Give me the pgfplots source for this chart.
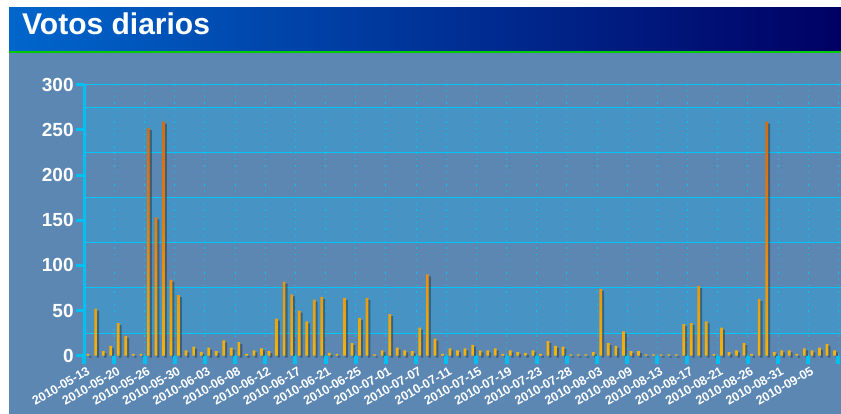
\documentclass[border=0pt]{standalone}
\usepackage{fontspec}
\setmainfont{Liberation Sans}
\usepackage{pgfplots}
\pgfplotsset{compat=1.18}
\usepackage{pgfplotstable}
\definecolor{bgblue}{HTML}{5B87B2}
\definecolor{bandblue}{HTML}{4693C4}
\definecolor{gridcyan}{HTML}{00C6F5}
\definecolor{tickcyan}{HTML}{00C0F2}
\definecolor{barTop}{HTML}{C85A0C}
\definecolor{barMid}{HTML}{E27A0E}
\definecolor{barLow}{HTML}{F0A80A}
\definecolor{barBot}{HTML}{FFD800}
\definecolor{hdrL}{HTML}{0066CC}
\definecolor{hdrM}{HTML}{0050B4}
\definecolor{hdrR}{HTML}{000064}
\definecolor{hdrGreen}{HTML}{00CC00}
\pgfdeclareverticalshading{barshade}{100bp}{color(0bp)=(barBot); color(12bp)=(barBot); color(30bp)=(barLow); color(55bp)=(barMid); color(100bp)=(barTop)}

\pgfplotstableread{
x y
0.5 2
1.5 52
2.5 5
3.5 11
4.5 36
5.5 22
6.5 2
7.5 2
8.5 252
9.5 153
10.5 259
11.5 84
12.5 67
13.5 6
14.5 10
15.5 4
16.5 9
17.5 5
18.5 17
19.5 9
20.5 15
21.5 2
22.5 6
23.5 8
24.5 5
25.5 41
26.5 82
27.5 68
28.5 50
29.5 38
30.5 62
31.5 65
32.5 3
33.5 2
34.5 64
35.5 14
36.5 42
37.5 64
38.5 1.5
39.5 6
40.5 46
41.5 9
42.5 6
43.5 5
44.5 31
45.5 90
46.5 19
47.5 2
48.5 8
49.5 6
50.5 8
51.5 12
52.5 6
53.5 6
54.5 8
55.5 2
56.5 6
57.5 4
58.5 3
59.5 6
60.5 2
61.5 16
62.5 11
63.5 10
64.5 1.5
65.5 1.5
66.5 1.5
67.5 4
68.5 74
69.5 14
70.5 11
71.5 27
72.5 5
73.5 5
74.5 1.5
75.5 1.5
76.5 1.5
77.5 1.5
78.5 1.5
79.5 35
80.5 36
81.5 77
82.5 38
83.5 2
84.5 31
85.5 4
86.5 6
87.5 14
88.5 2
89.5 63
90.5 259
91.5 4
92.5 6
93.5 6
94.5 2
95.5 8
96.5 6
97.5 9
98.5 13
99.5 6
}\votos

\begin{document}
\begin{tikzpicture}
% background panels
\fill[bgblue] (9pt,0pt) rectangle (841pt,360.7pt);
\fill[left color=hdrL, middle color=hdrM, right color=hdrR] (9pt,363.3pt) rectangle (841pt,406.7pt);
\fill[hdrGreen] (9pt,360.7pt) rectangle (841pt,363.3pt);
\node[anchor=base west, inner sep=0pt, text=white, font=\fontsize{30}{31}\selectfont\bfseries] at (22pt,379pt) {Votos diarios};

\begin{axis}[
  at={(84.3pt,58.3pt)}, anchor=south west,
  scale only axis, width=757pt, height=271pt,
  xmin=0, xmax=100.4, ymin=0, ymax=300,
  axis on top,
  separate axis lines,
  axis x line*=bottom, axis y line*=left,
  x axis line style={draw=none},
  y axis line style={tickcyan, line width=3pt, shorten <=-7pt},
  tick align=outside,
  xtick={0,4,...,100},
  xticklabels={2010-05-13,2010-05-20,2010-05-26,2010-05-30,2010-06-03,2010-06-08,2010-06-12,2010-06-17,2010-06-21,2010-06-25,2010-07-01,2010-07-07,2010-07-11,2010-07-15,2010-07-19,2010-07-23,2010-07-28,2010-08-03,2010-08-09,2010-08-13,2010-08-17,2010-08-21,2010-08-26,2010-08-31,2010-09-05,{}},
  x tick style={tickcyan, line width=4pt},
  x tick label style={rotate=30, anchor=east, text=white, inner sep=1pt, yshift=-7pt, xshift=2pt,
     font=\fontsize{12.5}{13}\selectfont\bfseries},
  ytick={0,50,...,300},
  major tick length=8.5pt,
  y tick style={tickcyan, line width=3pt},
  y tick label style={text=white, inner sep=2pt, font=\fontsize{19}{19}\selectfont\bfseries},
  /pgf/number format/assume math mode=true,
  clip=false,
]
% alternating bands
\fill[bandblue] (axis cs:0,25) rectangle (axis cs:100.4,75);
\fill[bandblue] (axis cs:0,125) rectangle (axis cs:100.4,175);
\fill[bandblue] (axis cs:0,225) rectangle (axis cs:100.4,275);
% grid
\pgfplotsinvokeforeach{25,75,125,175,225,275,300}{
  \draw[gridcyan, line width=1pt] (axis cs:0,#1) -- (axis cs:100.4,#1);
}
\pgfplotsinvokeforeach{4,8,...,100}{
  \draw[gridcyan, line width=0.9pt, dash pattern=on 1.3pt off 5pt] (axis cs:#1,0) -- (axis cs:#1,300);
}
% shadows
\addplot[ybar, bar width=2.4pt, bar shift=2.2pt, draw=none, fill=black, fill opacity=0.3, yshift=-2pt] table[x=x, y=y] {\votos};
% bars
\addplot[ybar, bar width=2.7pt, bar shift=0pt, draw=none, shading=barshade] table[x=x, y=y] {\votos};
\end{axis}
\pgfresetboundingbox
\path[use as bounding box] (0pt,0pt) rectangle (841pt,414pt);
\end{tikzpicture}
\end{document}
